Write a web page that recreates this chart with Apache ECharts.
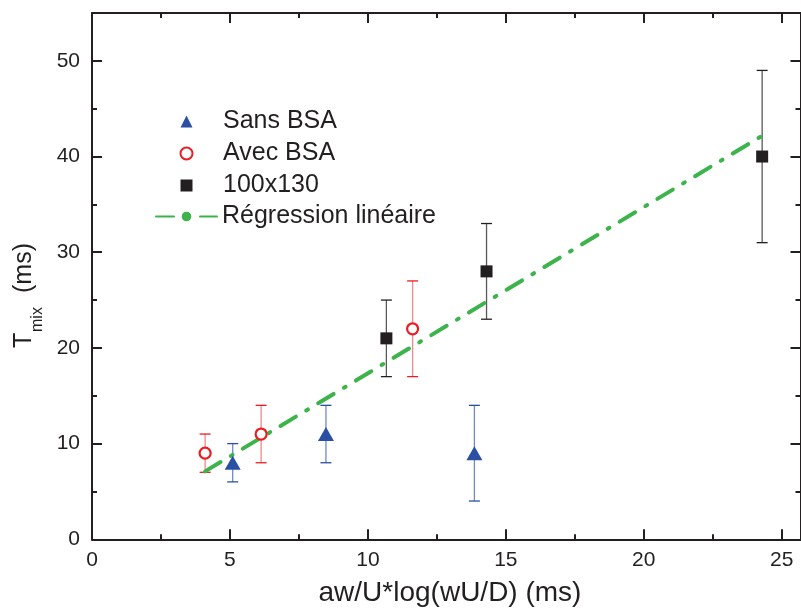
<!DOCTYPE html>
<html>
<head>
<meta charset="utf-8">
<script src="https://cdn.jsdelivr.net/npm/echarts@6/dist/echarts.min.js"></script>
<style>
html,body{margin:0;padding:0;background:#fff;}
#chart{width:801px;height:609px;}
</style>
</head>
<body>
<div id="chart"></div>
<script>
// ---- data ----
const seriesNames = ['Sans BSA', 'Avec BSA', '100x130', 'Régression linéaire'];
const sansX = [5.1, 8.48, 13.86];
const sansY = [8, 11, 9];
const sansLow = [6, 8, 4];
const sansHigh = [10, 14, 14];

const avecX = [4.1, 6.13, 11.62];
const avecY = [9, 11, 22];
const avecLow = [7, 8, 17];
const avecHigh = [11, 14, 27];

const boxX = [10.67, 14.3, 24.29];
const boxY = [21, 28, 40];
const boxLow = [17, 23, 31];
const boxHigh = [25, 33, 49];

const regX = [4.1, 24.25];
const regY = [7.1, 42.1];

const xTitle = 'aw/U*log(wU/D) (ms)';
const yTitleMain = 'T';
const yTitleSub = 'mix';
const yTitleUnit = '(ms)';

// ---- build ----
const FONT = 'Liberation Sans, Arial, Helvetica, sans-serif';
const INK = '#231f20';
const BLUE = '#2b4fa2';
const RED = '#ec1c24';
const GREEN = '#3cb44b';

function pairs(xs, ys) { return xs.map((x, i) => [x, ys[i]]); }
function triples(xs, lo, hi) { return xs.map((x, i) => [x, lo[i], hi[i]]); }

function errorBars(name, xs, lo, hi, stem, cap) {
  return {
    type: 'custom',
    name: name + ' err',
    xAxisIndex: 0, yAxisIndex: 0,
    z: 2,
    silent: true,
    data: triples(xs, lo, hi),
    encode: { x: 0, y: [1, 2] },
    renderItem: function (params, api) {
      const x = api.value(0), l = api.value(1), h = api.value(2);
      const pL = api.coord([x, l]), pH = api.coord([x, h]);
      const hw = 5.5;
      return {
        type: 'group',
        children: [
          { type: 'line', shape: { x1: pL[0], y1: pL[1], x2: pH[0], y2: pH[1] }, style: { stroke: stem, lineWidth: 1.3 } },
          { type: 'line', shape: { x1: pL[0] - hw, y1: pL[1], x2: pL[0] + hw, y2: pL[1] }, style: { stroke: cap, lineWidth: 1.3 } },
          { type: 'line', shape: { x1: pH[0] - hw, y1: pH[1], x2: pH[0] + hw, y2: pH[1] }, style: { stroke: cap, lineWidth: 1.3 } }
        ]
      };
    }
  };
}

function xAx(pos, gridIndex, interval, tickLen, showLine, showLabel) {
  return {
    type: 'value', gridIndex: gridIndex, position: pos,
    min: 0, max: 25.68, interval: interval,
    axisLine: { show: showLine, onZero: false, lineStyle: { color: INK, width: 2 } },
    axisTick: { show: true, inside: true, length: tickLen, lineStyle: { color: INK, width: 2 } },
    axisLabel: {
      show: showLabel, margin: 10, fontSize: 21, fontFamily: FONT, color: INK,
      showMaxLabel: false,
      formatter: function (v) { return (Math.abs(v % 5) < 1e-9) ? String(v) : ''; }
    },
    splitLine: { show: false }
  };
}
function yAx(pos, gridIndex, interval, tickLen, showLine, showLabel) {
  return {
    type: 'value', gridIndex: gridIndex, position: pos,
    min: 0, max: 55, interval: interval,
    axisLine: { show: showLine, onZero: false, lineStyle: { color: INK, width: 2 } },
    axisTick: { show: true, inside: true, length: tickLen, lineStyle: { color: INK, width: 2 } },
    axisLabel: {
      show: showLabel, margin: 12, fontSize: 21, fontFamily: FONT, color: INK,
      showMaxLabel: false,
      formatter: function (v) { return (Math.abs(v % 10) < 1e-9) ? String(v) : ''; }
    },
    splitLine: { show: false }
  };
}

const gridRect = { left: 92, right: 0.5, top: 13, bottom: 69.7, containLabel: false };
const legendText = { fontSize: 25, fontFamily: FONT, color: INK, lineHeight: 23 };

const option = {
  backgroundColor: '#fff',
  animation: false,
  textStyle: { fontFamily: FONT },
  grid: [Object.assign({}, gridRect), Object.assign({}, gridRect)],
  xAxis: [
    xAx('bottom', 0, 5, 10, true, true),
    xAx('top', 0, 5, 10, true, false),
    xAx('bottom', 1, 2.5, 5, false, false),
    xAx('top', 1, 2.5, 5, false, false)
  ],
  yAxis: [
    yAx('left', 0, 10, 10, true, true),
    yAx('right', 0, 10, 10, true, false),
    yAx('left', 1, 5, 5, false, false),
    yAx('right', 1, 5, 5, false, false)
  ],
  legend: [
    {
      orient: 'vertical',
      left: 174.5, top: 104,
      itemWidth: 12, itemHeight: 12, itemGap: 7,
      textStyle: Object.assign({ padding: [0, 0, 0, 25.5] }, legendText),
      data: seriesNames.slice(0, 3)
    },
    {
      orient: 'vertical',
      left: 150, top: 199,
      itemWidth: 61, itemHeight: 12, itemGap: 7,
      textStyle: Object.assign({}, legendText),
      data: seriesNames.slice(3)
    }
  ],
  graphic: [
    { type: 'text', x: 450, y: 593, z: 100,
      style: { text: xTitle, font: '28px ' + FONT, fill: INK, textAlign: 'center', textVerticalAlign: 'middle', align: 'center', verticalAlign: 'middle' } },
    { type: 'text', x: 24, y: 348, rotation: Math.PI / 2, z: 100,
      style: { text: yTitleMain, font: '25px ' + FONT, fill: INK, textAlign: 'left', textVerticalAlign: 'middle', align: 'left', verticalAlign: 'middle' } },
    { type: 'text', x: 38, y: 332, rotation: Math.PI / 2, z: 100,
      style: { text: yTitleSub, font: '16px ' + FONT, fill: INK, textAlign: 'left', textVerticalAlign: 'middle', align: 'left', verticalAlign: 'middle' } },
    { type: 'text', x: 24, y: 293, rotation: Math.PI / 2, z: 100,
      style: { text: yTitleUnit, font: '25px ' + FONT, fill: INK, textAlign: 'left', textVerticalAlign: 'middle', align: 'left', verticalAlign: 'middle' } }
  ],
  series: [
    errorBars('Sans BSA', sansX, sansLow, sansHigh, '#6f8ac4', BLUE),
    errorBars('Avec BSA', avecX, avecLow, avecHigh, '#f3878b', RED),
    errorBars('100x130', boxX, boxLow, boxHigh, '#5a5758', INK),
    {
      name: seriesNames[3], type: 'line', xAxisIndex: 0, yAxisIndex: 0, z: 3,
      data: pairs(regX, regY), symbol: 'none', silent: true,
      lineStyle: { color: GREEN, width: 4, type: [18, 12, 2, 12], cap: 'round' },
      itemStyle: { color: GREEN }
    },
    {
      name: seriesNames[0], type: 'scatter', xAxisIndex: 0, yAxisIndex: 0, z: 5,
      data: pairs(sansX, sansY), symbol: 'triangle', symbolSize: [16, 14],
      itemStyle: { color: BLUE, opacity: 1 }
    },
    {
      name: seriesNames[1], type: 'scatter', xAxisIndex: 0, yAxisIndex: 0, z: 5,
      data: pairs(avecX, avecY), symbol: 'circle', symbolSize: 11,
      itemStyle: { color: '#fff', borderColor: RED, borderWidth: 2.2, opacity: 1 }
    },
    {
      name: seriesNames[2], type: 'scatter', xAxisIndex: 0, yAxisIndex: 0, z: 5,
      data: pairs(boxX, boxY), symbol: 'rect', symbolSize: 12,
      itemStyle: { color: INK, opacity: 1 }
    }
  ]
};

const chart = echarts.init(document.getElementById('chart'), null, { renderer: 'canvas' });
chart.setOption(option);
</script>
</body>
</html>
